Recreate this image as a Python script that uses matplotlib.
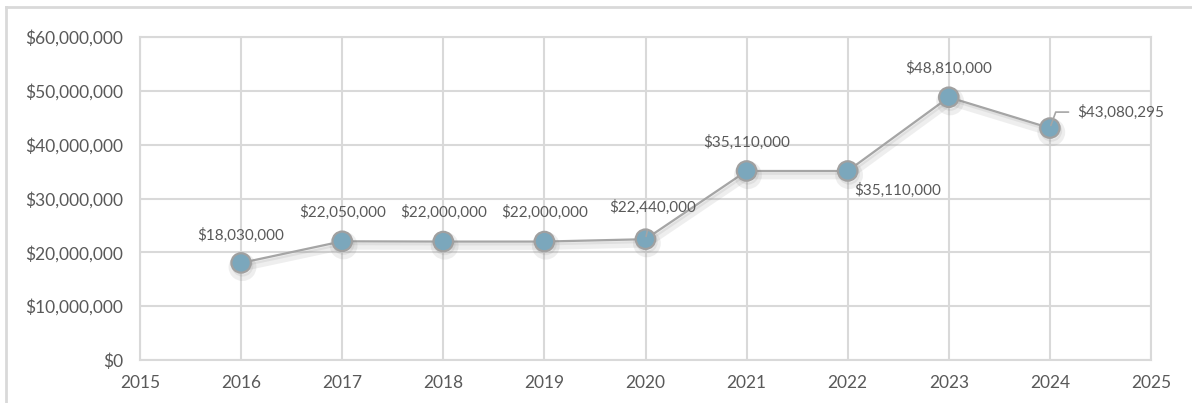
import matplotlib.pyplot as plt
import matplotlib.patheffects as pe
from matplotlib.lines import Line2D
from matplotlib.ticker import FuncFormatter

plt.rcParams['font.family'] = ['Lato', 'DejaVu Sans']

years = [2016, 2017, 2018, 2019, 2020, 2021, 2022, 2023, 2024]
values = [18030000, 22050000, 22000000, 22000000, 22440000, 35110000, 35110000, 48810000, 43080295]
y_ticks = [0, 10000000, 20000000, 30000000, 40000000, 50000000, 60000000]
x_ticks = list(range(2015, 2026))

# label offsets in pixels (dx, dy), and whether to draw a leader line
label_offsets = [(0, 28), (0, 29), (0, 29), (0, 29), (7, 32), (0, 29), (50, -19), (0, 29), (27, 16)]
leaders = [False, False, False, False, True, False, False, False, True]

txt = '#595959'
grid = '#D9D9D9'

fig = plt.figure(figsize=(11.92, 4.03), dpi=100)
ax = fig.add_axes([140 / 1192, 1 - 360 / 403, 1011 / 1192, 323 / 403])

ax.plot(years, values, color='#A5A5A5', lw=1.6, marker='o', ms=14,
        markerfacecolor='#7BA7BC', markeredgecolor='#A0A0A0', markeredgewidth=1.6,
        zorder=3,
        path_effects=[pe.SimpleLineShadow(offset=(1, -3), shadow_color='#777777', alpha=0.12, linewidth=6),
                      pe.SimpleLineShadow(offset=(1, -2), shadow_color='#777777', alpha=0.12),
                      pe.Normal()])

for x, v, (dx, dy), lead in zip(years, values, label_offsets, leaders):
    label = '${:,.0f}'.format(v)
    if lead and dx > 20:
        ax.annotate(label, (x, v), xytext=(dx, dy), textcoords='offset pixels',
                    ha='left', va='center', fontsize=11, color=txt,
                    arrowprops=dict(arrowstyle='-', color='#A5A5A5', lw=1.2,
                                    shrinkA=4, shrinkB=2,
                                    connectionstyle='angle,angleA=0,angleB=70,rad=0'),
                    zorder=4)
    elif lead:
        ax.annotate(label, (x, v), xytext=(dx, dy), textcoords='offset pixels',
                    ha='center', va='center', fontsize=11, color=txt,
                    arrowprops=dict(arrowstyle='-', color='#A5A5A5', lw=1.2,
                                    shrinkA=9, shrinkB=2),
                    zorder=4)
    else:
        ax.annotate(label, (x, v), xytext=(dx, dy), textcoords='offset pixels',
                    ha='center', va='center', fontsize=11, color=txt, zorder=4)

ax.set_xlim(2015, 2025)
ax.set_ylim(0, 60000000)
ax.set_xticks(x_ticks)
ax.set_yticks(y_ticks)
ax.yaxis.set_major_formatter(FuncFormatter(lambda v, p: '${:,.0f}'.format(v)))
ax.grid(True, color=grid, lw=1.5)
ax.set_axisbelow(True)
for s in ax.spines.values():
    s.set_color(grid)
    s.set_linewidth(1.5)
ax.tick_params(length=0, labelsize=12.5, labelcolor=txt)
ax.tick_params(axis='y', pad=12)
ax.tick_params(axis='x', pad=11)

# outer chart frame (cropped on right and bottom)
fx, fy = 6 / 1192, 1 - 7 / 403
fig.add_artist(Line2D([fx, fx], [0, fy], transform=fig.transFigure, color=grid, lw=2))
fig.add_artist(Line2D([fx, 1], [fy, fy], transform=fig.transFigure, color=grid, lw=2))

fig.savefig('out.png', dpi=100)
